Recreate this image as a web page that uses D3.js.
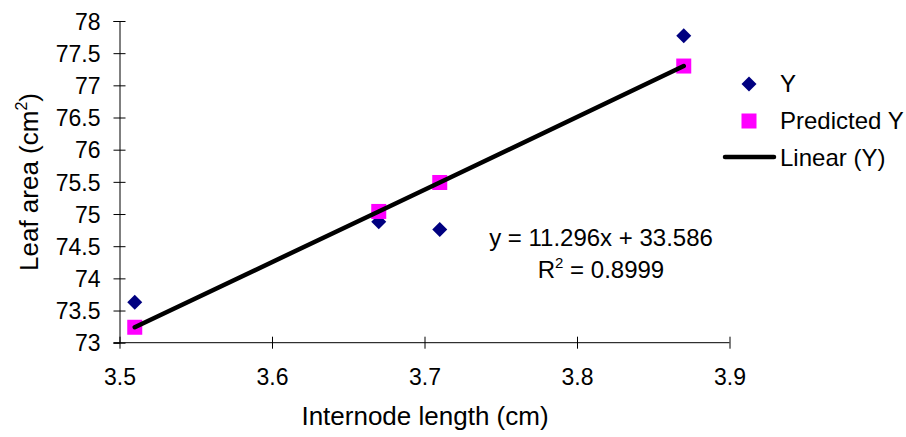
<!DOCTYPE html>
<html>
<head>
<meta charset="utf-8">
<script src="https://cdn.jsdelivr.net/npm/d3@7"></script>
<style>
  body { margin: 0; background: #fff; }
  svg text { font-family: "Liberation Sans", Arial, sans-serif; fill: #000; }
  .axis path, .axis line { stroke: #000; stroke-width: 1; }
</style>
</head>
<body>
<svg id="chart" width="906" height="437"></svg>
<script>
// values
var internode = [3.51, 3.67, 3.71, 3.87];
var leafY = [73.63, 74.88, 74.76, 77.77];
var leafPredicted = [73.24, 75.04, 75.49, 77.30];
var xTicks = [3.5, 3.6, 3.7, 3.8, 3.9];
var yTicks = [73, 73.5, 74, 74.5, 75, 75.5, 76, 76.5, 77, 77.5, 78];
var equationText = "y = 11.296x + 33.586";
var rSquared = "0.8999";

var svg = d3.select("#chart");

var x = d3.scaleLinear().domain([3.5, 3.9]).range([119.5, 729.5]);
var y = d3.scaleLinear().domain([73, 78]).range([342.7, 21]);

// x axis
var gx = svg.append("g")
    .attr("class", "axis")
    .attr("transform", "translate(0," + y(73) + ")")
    .call(d3.axisBottom(x).tickValues(xTicks).tickSizeOuter(0).tickSize(6)
      .tickFormat(d3.format(".1f")));
gx.selectAll(".tick line").attr("y1", -6).attr("y2", 6);
gx.selectAll(".tick text").attr("y", 0).attr("dy", "42px").style("font-size", "23px");

// y axis
var gy = svg.append("g")
    .attr("class", "axis")
    .attr("transform", "translate(" + x(3.5) + ",0)")
    .call(d3.axisLeft(y).tickValues(yTicks).tickSizeOuter(0).tickSize(6)
      .tickFormat(function(d) { return d3.format("")(d); }));
gy.selectAll(".tick line").attr("x1", -6).attr("x2", 6);
gy.selectAll(".tick text").attr("x", -19).attr("dy", "0.36em").style("font-size", "23px");
gx.select(".domain").attr("d", "M" + (x(3.5) - 6) + ",0H" + x(3.9));
svg.selectAll(".axis text").attr("fill", "#000");

// axis titles
svg.append("text")
    .attr("x", 425)
    .attr("y", 425)
    .attr("text-anchor", "middle")
    .style("font-size", "26px")
    .text("Internode length (cm)");

var yt = svg.append("text")
    .attr("transform", "translate(38,182) rotate(-90)")
    .attr("text-anchor", "middle")
    .style("font-size", "26px");
yt.append("tspan").text("Leaf area (cm");
yt.append("tspan").attr("dy", -11).style("font-size", "16px").text("2");
yt.append("tspan").attr("dy", 11).text(")");

var pts = internode.map(function(d, i) {
  return {x: d, obs: leafY[i], pred: leafPredicted[i]};
});

// Y series: navy diamonds
svg.selectAll(".obs")
    .data(pts)
  .enter().append("path")
    .attr("class", "obs")
    .attr("transform", function(d) { return "translate(" + x(d.x) + "," + y(d.obs) + ")"; })
    .attr("d", "M0,-7.5L7.5,0L0,7.5L-7.5,0Z")
    .attr("fill", "#000080");

// Predicted Y: magenta squares
svg.selectAll(".pred")
    .data(pts)
  .enter().append("rect")
    .attr("class", "pred")
    .attr("x", function(d) { return x(d.x) - 7.5; })
    .attr("y", function(d) { return y(d.pred) - 7.5; })
    .attr("width", 15)
    .attr("height", 15)
    .attr("fill", "#ff00ff");

// Linear (Y) trendline
svg.append("path")
    .datum(pts)
    .attr("d", d3.line()
      .x(function(d) { return x(d.x); })
      .y(function(d) { return y(d.pred); }))
    .attr("fill", "none")
    .attr("stroke", "#000")
    .attr("stroke-width", 4.5)
    .attr("stroke-linecap", "round");

// equation
svg.append("text")
    .attr("x", 601)
    .attr("y", 246)
    .attr("text-anchor", "middle")
    .style("font-size", "24px")
    .text(equationText);
var r2 = svg.append("text")
    .attr("x", 601)
    .attr("y", 278)
    .attr("text-anchor", "middle")
    .style("font-size", "24px");
r2.append("tspan").text("R");
r2.append("tspan").attr("dy", -10).style("font-size", "15px").text("2");
r2.append("tspan").attr("dy", 10).text(" = " + rSquared);

// legend
var legend = svg.append("g");
legend.append("path")
    .attr("transform", "translate(749,84)")
    .attr("d", "M0,-7.5L7.5,0L0,7.5L-7.5,0Z")
    .attr("fill", "#000080");
legend.append("text").attr("x", 780).attr("y", 92).style("font-size", "24px").text("Y");
legend.append("rect")
    .attr("x", 741.5).attr("y", 113.5).attr("width", 15).attr("height", 15)
    .attr("fill", "#ff00ff");
legend.append("text").attr("x", 780).attr("y", 129).style("font-size", "24px").text("Predicted Y");
legend.append("line")
    .attr("x1", 725).attr("x2", 774).attr("y1", 157).attr("y2", 157)
    .attr("stroke", "#000").attr("stroke-width", 4.5).attr("stroke-linecap", "round");
legend.append("text").attr("x", 780).attr("y", 166).style("font-size", "24px").text("Linear (Y)");
</script>
</body>
</html>
